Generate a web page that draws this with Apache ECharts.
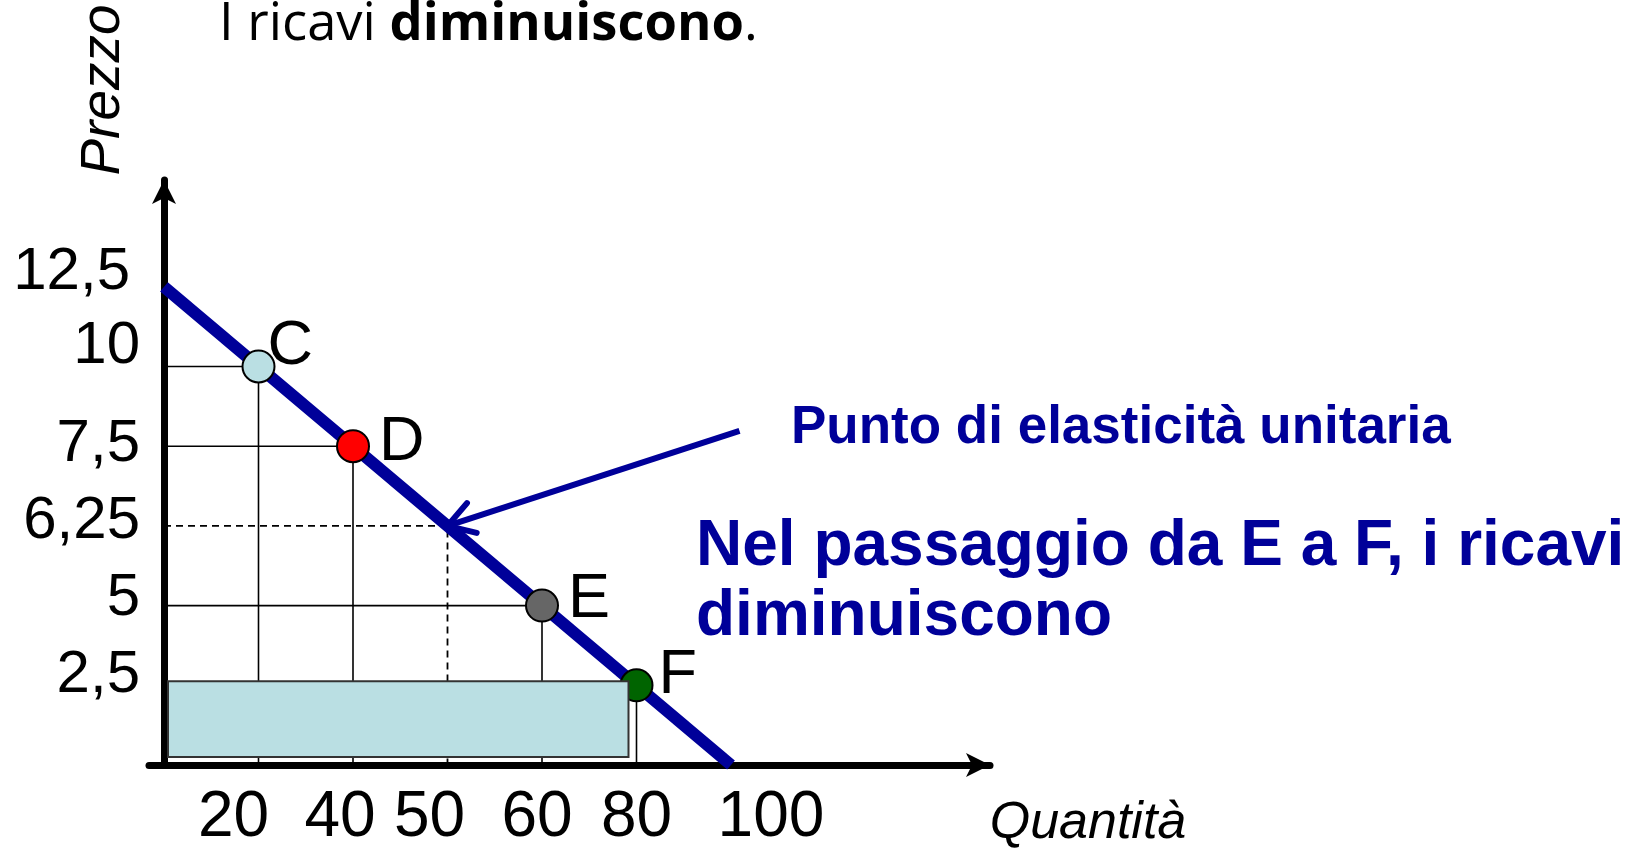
<!DOCTYPE html>
<html><head><meta charset="utf-8">
<script src="https://cdn.jsdelivr.net/npm/echarts@6/dist/echarts.min.js"></script>
<style>html,body{margin:0;padding:0;background:#fff}#c{width:1638px;height:848px}</style>
</head><body><div id="c"></div>
<script>
// ---- data (ticks are drawn equally spaced in the original sketch) ----
const quantityTicks = [0, 20, 40, 50, 60, 80, 100];
const priceTicks = [0, 2.5, 5, 6.25, 7.5, 10, 12.5];
const quantityLabels = ['', '20', '40', '50', '60', '80', '100'];
const priceLabels = ['', '2,5', '5', '6,25', '7,5', '10', '12,5'];
const pointNames = ['C', 'D', 'E', 'F'];
const pointQuantity = [20, 40, 60, 80];
const pointPrice = [10, 7.5, 5, 2.5];
const demandQuantity = [0, 100];
const demandPrice = [12.5, 0];
const unitElasticQuantity = 50;
const unitElasticPrice = 6.25;
const revenueQuantity = 80;
const revenuePrice = 2.5;

// ---- styles ----
const NAVY = '#000099';
const FONT = 'Liberation Sans';
const pointColors = ['#badfe3', '#ff0000', '#666666', '#006400'];
const pointLabelOffsets = [[-13, -20], [4, -4], [4, -6], [0, -10]];
const xLabelShift = [0, -25, -13, -18, -5, 0, 40];
const yLabelShift = [[0, 0], [0, -10], [0, -7], [0, -4], [0, -2], [0, -20], [-10, -14]];

const qx = q => quantityTicks.indexOf(q);
const py = p => priceTicks.indexOf(p);

const xRich = {}, yRich = {};
xLabelShift.forEach((s, i) => {
  xRich['t' + i] = { fontSize: 64, fontFamily: FONT, color: '#000',
    padding: [0, s < 0 ? -2 * s : 0, 0, s > 0 ? 2 * s : 0] };
});
yLabelShift.forEach(([dx, dy], i) => {
  yRich['t' + i] = { fontSize: 60, fontFamily: FONT, color: '#000',
    padding: [dy > 0 ? 2 * dy : 0, dx < 0 ? -dx : 0, dy < 0 ? -2 * dy : 0, 0] };
});

const series = [];
pointNames.forEach((n, i) => {
  series.push({
    type: 'line', silent: true, symbol: 'none', z: 2,
    data: [[0, py(pointPrice[i])], [qx(pointQuantity[i]), py(pointPrice[i])], [qx(pointQuantity[i]), 0]],
    lineStyle: { color: '#000', width: 1.6 }
  });
});
series.push({
  type: 'line', silent: true, symbol: 'none', z: 2,
  data: [[0, py(unitElasticPrice)], [qx(unitElasticQuantity), py(unitElasticPrice)], [qx(unitElasticQuantity), 0]],
  lineStyle: { color: '#000', width: 1.8, type: [7, 5] }
});
series.push({
  type: 'line', silent: true, symbol: 'none', z: 4,
  data: demandQuantity.map((q, i) => [qx(q), py(demandPrice[i])]),
  lineStyle: { color: NAVY, width: 12, cap: 'butt' }
});
series.push({
  type: 'scatter', z: 5, symbolSize: 32,
  data: pointNames.map((n, i) => ({
    name: n, value: [qx(pointQuantity[i]), py(pointPrice[i])],
    itemStyle: { color: pointColors[i], borderColor: '#000', borderWidth: 2, opacity: 1 },
    label: { offset: pointLabelOffsets[i], color: '#000', opacity: 1 }
  })),
  itemStyle: { opacity: 1 },
  label: { show: true, position: 'right', distance: 5, formatter: p => p.name,
    fontSize: 63, fontFamily: FONT, color: '#000', opacity: 1 }
});
series.push({
  type: 'custom', z: 6, silent: true,
  data: [[qx(revenueQuantity), py(revenuePrice)]],
  renderItem: (params, api) => {
    const tl = api.coord([0, api.value(1)]);
    const br = api.coord([api.value(0), 0]);
    const x0 = tl[0] + 4, y0 = tl[1] - 4, x1 = br[0] - 8, y1 = br[1] - 8;
    return { type: 'rect', shape: { x: x0, y: y0, width: x1 - x0, height: y1 - y0 },
      style: { fill: '#badfe3', stroke: '#333', lineWidth: 2 } };
  }
});
series.push({
  type: 'custom', z: 7, silent: true,
  data: [[qx(unitElasticQuantity), py(unitElasticPrice)]],
  renderItem: (params, api) => {
    const tip = api.coord([api.value(0), api.value(1)]);
    const start = [tip[0] + 292, tip[1] - 95];
    const ang = Math.atan2(start[1] - tip[1], start[0] - tip[0]);
    const L = 30, s = 0.55;
    const a1 = [tip[0] + L * Math.cos(ang - s), tip[1] + L * Math.sin(ang - s)];
    const a2 = [tip[0] + L * Math.cos(ang + s), tip[1] + L * Math.sin(ang + s)];
    return { type: 'group', children: [
      { type: 'line', shape: { x1: start[0], y1: start[1], x2: tip[0], y2: tip[1] },
        style: { stroke: NAVY, lineWidth: 6, lineCap: 'butt' } },
      { type: 'polyline', shape: { points: [a1, tip, a2] },
        style: { stroke: NAVY, lineWidth: 6, fill: null, lineCap: 'round', lineJoin: 'round' } }
    ] };
  }
});

const xUnit = 94.5, yUnit = 79.7, originX = 164, originY = 765;
const gridLeft = 149, xEnd = 990, yEnd = 180;
const xMin = -(originX - gridLeft) / xUnit, xMax = (xEnd - originX) / xUnit;
const yMax = (originY - yEnd) / yUnit;

const chart = echarts.init(document.getElementById('c'));
chart.setOption({
  animation: false,
  backgroundColor: '#fff',
  grid: { left: gridLeft, right: 1638 - xEnd, top: yEnd, bottom: 848 - originY,
    containLabel: false, outerBoundsMode: 'none' },
  xAxis: {
    type: 'value', min: xMin, max: xMax,
    axisLine: { onZero: true, symbol: ['none', 'arrow'], symbolSize: [18, 24], lineStyle: { color: '#000', width: 7 } },
    axisTick: { show: false }, splitLine: { show: false },
    axisLabel: { customValues: [1, 2, 3, 4, 5, 6], formatter: v => { const i = Math.round(v); return '{t' + i + '|' + quantityLabels[i] + '}'; },
      rich: xRich, fontSize: 64, fontFamily: FONT, color: '#000', margin: 21 }
  },
  yAxis: {
    type: 'value', min: 0, max: yMax,
    axisLine: { onZero: true, symbol: ['none', 'arrow'], symbolSize: [18, 24], lineStyle: { color: '#000', width: 7 } },
    axisTick: { show: false }, splitLine: { show: false },
    axisLabel: { customValues: [1, 2, 3, 4, 5, 6], formatter: v => { const i = Math.round(v); return '{t' + i + '|' + priceLabels[i] + '}'; },
      rich: yRich, fontSize: 60, fontFamily: FONT, color: '#000', margin: 9 }
  },
  graphic: [
    { type: 'text', x: 219, y: 25, style: { text: '{a|I ricavi }{b|diminuiscono}{a|.}', verticalAlign: 'middle', align: 'left',
      rich: { a: { fontSize: 52.5, fontFamily: 'Open Sans', color: '#000' }, b: { fontSize: 52.5, fontFamily: 'Open Sans', fontWeight: 'bold', color: '#000' } } } },
    { type: 'text', x: 104, y: 90, rotation: Math.PI / 2, style: { text: 'Prezzo', align: 'center', verticalAlign: 'middle',
      font: 'italic 55px "Liberation Sans"', fill: '#000' } },
    { type: 'text', x: 1088, y: 824, style: { text: 'Quantità', align: 'center', verticalAlign: 'middle',
      font: 'italic 52px "Liberation Sans"', fill: '#000' } },
    { type: 'text', x: 791, y: 428, style: { text: 'Punto di elasticità unitaria', align: 'left', verticalAlign: 'middle',
      font: 'bold 53px "Liberation Sans"', fill: NAVY } },
    { type: 'text', x: 696, y: 582, style: { text: 'Nel passaggio da E a F, i ricavi\ndiminuiscono', align: 'left', verticalAlign: 'middle',
      font: 'bold 64px "Liberation Sans"', lineHeight: 70, fill: NAVY } }
  ],
  series: series
});
</script>
</body></html>
